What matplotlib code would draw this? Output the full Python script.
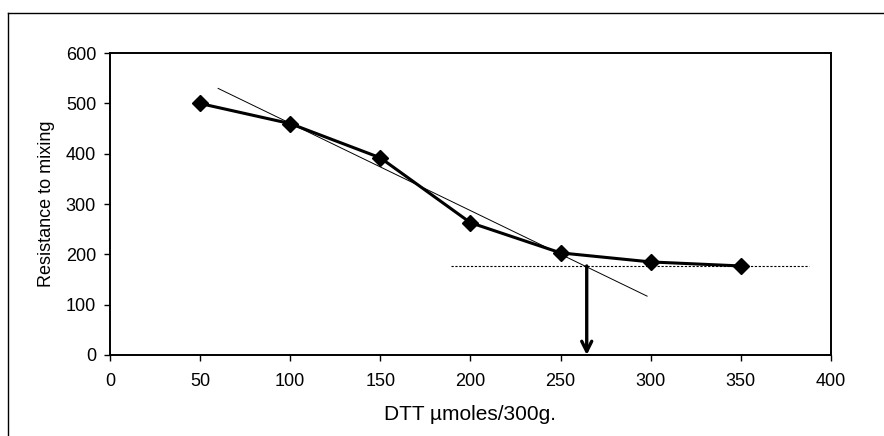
import matplotlib.pyplot as plt
from matplotlib.lines import Line2D

plt.rcParams['font.family'] = ['Liberation Sans', 'DejaVu Sans']

# measured points
dtt = [50, 100, 150, 200, 250, 300, 350]
resistance = [500, 460, 392, 263, 203, 185, 177]

# hand-drawn trend line, plateau guide and arrow
trend_x = [60, 298]
trend_y = [530, 117]
plateau_x = [189, 388]
plateau_y = [177, 177]
arrow_x = 264.5
arrow_top = 177

fig = plt.figure(figsize=(8.84, 4.36), dpi=100)
ax = fig.add_axes([0.1244, 0.1858, 0.8156, 0.6922])

ax.plot(trend_x, trend_y, color='black', lw=0.7)
ax.plot(plateau_x, plateau_y, color='black', lw=0.8, linestyle=(0, (2, 1.5)))
ax.plot(dtt, resistance, color='black', lw=2.2, marker='D', markersize=8.5,
        markerfacecolor='black', zorder=3)
ax.annotate('', xy=(arrow_x, 0), xytext=(arrow_x, arrow_top),
            arrowprops=dict(arrowstyle='->', lw=2.4, color='black',
                            mutation_scale=18, shrinkA=0, shrinkB=0))

ax.set_xlim(0, 400)
ax.set_ylim(0, 600)
ax.set_xticks(range(0, 401, 50))
ax.set_yticks(range(0, 601, 100))
ax.tick_params(direction='out', length=4, width=1, labelsize=13, pad=6)
ax.tick_params(axis='x', pad=9)
for s in ax.spines.values():
    s.set_linewidth(1.4)

ax.set_xlabel('DTT µmoles/300g.', fontsize=15, labelpad=11)
ax.set_ylabel('Resistance to mixing', fontsize=13, labelpad=8)

# outer frame edges
fig.add_artist(Line2D([8 / 884, 1], [1 - 13 / 436, 1 - 13 / 436],
                      transform=fig.transFigure, color='black', lw=1))
fig.add_artist(Line2D([8 / 884, 8 / 884], [0, 1 - 13 / 436],
                      transform=fig.transFigure, color='black', lw=1))

fig.savefig('out.png', dpi=100)
